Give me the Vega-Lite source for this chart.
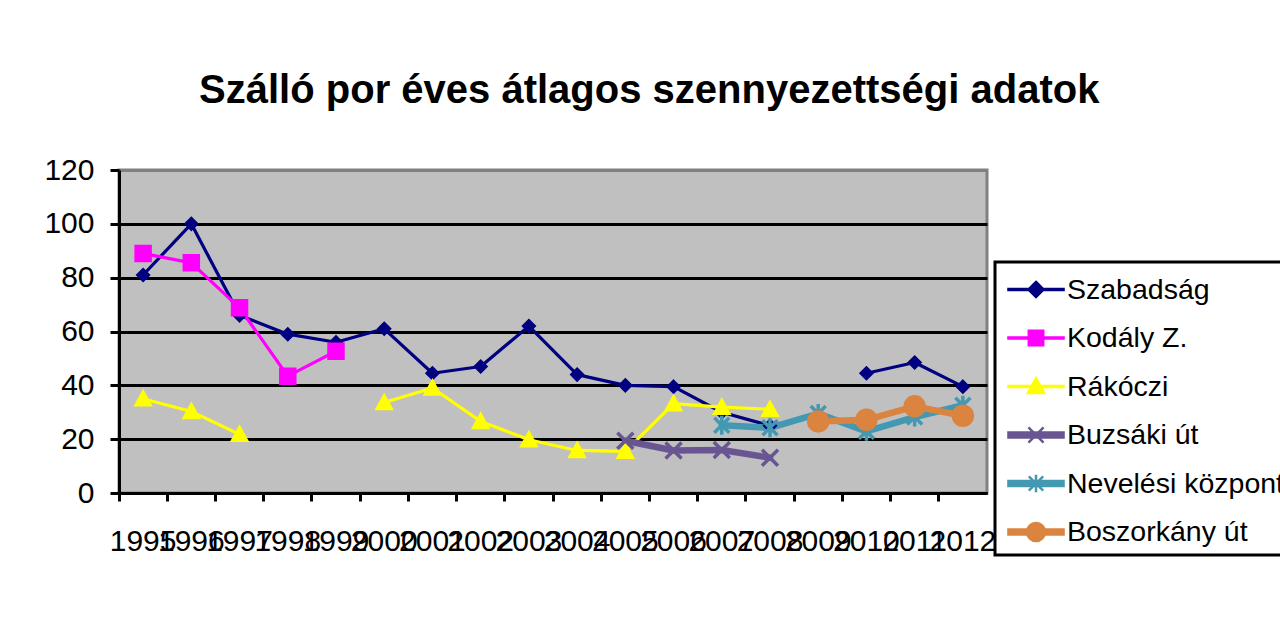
{
  "$schema": "https://vega.github.io/schema/vega-lite/v6.json",
  "width": 868,
  "height": 323,
  "autosize": {"type": "none"},
  "padding": {"left": 119, "top": 170, "right": 293, "bottom": 126},
  "background": "white",
  "title": {
    "text": "Szálló por éves átlagos szennyezettségi adatok",
    "font": "Liberation Sans",
    "fontSize": 40,
    "fontWeight": "bold",
    "color": "black",
    "anchor": "middle",
    "frame": "bounds",
    "offset": 44,
    "dx": -20
  },
  "config": {
    "view": {"fill": "#C0C0C0", "stroke": "#808080", "strokeWidth": 3},
    "axis": {
      "labelFont": "Liberation Sans",
      "labelFontSize": 30,
      "labelColor": "black",
      "domainColor": "black",
      "domainWidth": 3,
      "tickColor": "black",
      "tickWidth": 3,
      "title": null
    },
    "legend": {
      "strokeColor": "black",
      "strokeWidth": 3,
      "fillColor": "white"
    }
  },
  "data": {
    "values": [
      {"year": 1995, "series": "Szabadság", "value": 81},
      {"year": 1996, "series": "Szabadság", "value": 100},
      {"year": 1997, "series": "Szabadság", "value": 66},
      {"year": 1998, "series": "Szabadság", "value": 59},
      {"year": 1999, "series": "Szabadság", "value": 56},
      {"year": 2000, "series": "Szabadság", "value": 61},
      {"year": 2001, "series": "Szabadság", "value": 44.5},
      {"year": 2002, "series": "Szabadság", "value": 47},
      {"year": 2003, "series": "Szabadság", "value": 62},
      {"year": 2004, "series": "Szabadság", "value": 44},
      {"year": 2005, "series": "Szabadság", "value": 40},
      {"year": 2006, "series": "Szabadság", "value": 39.5},
      {"year": 2007, "series": "Szabadság", "value": 30},
      {"year": 2008, "series": "Szabadság", "value": 25},
      {"year": 2009, "series": "Szabadság", "value": null},
      {"year": 2010, "series": "Szabadság", "value": 44.5},
      {"year": 2011, "series": "Szabadság", "value": 48.5},
      {"year": 2012, "series": "Szabadság", "value": 39.5},
      {"year": 1995, "series": "Kodály Z.", "value": 89},
      {"year": 1996, "series": "Kodály Z.", "value": 85.5},
      {"year": 1997, "series": "Kodály Z.", "value": 68.8},
      {"year": 1998, "series": "Kodály Z.", "value": 43.4},
      {"year": 1999, "series": "Kodály Z.", "value": 52.7},
      {"year": 1995, "series": "Rákóczi", "value": 35},
      {"year": 1996, "series": "Rákóczi", "value": 30.3},
      {"year": 1997, "series": "Rákóczi", "value": 21.8},
      {"year": 1998, "series": "Rákóczi", "value": null},
      {"year": 1999, "series": "Rákóczi", "value": null},
      {"year": 2000, "series": "Rákóczi", "value": 33.6},
      {"year": 2001, "series": "Rákóczi", "value": 39},
      {"year": 2002, "series": "Rákóczi", "value": 26.6},
      {"year": 2003, "series": "Rákóczi", "value": 19.8},
      {"year": 2004, "series": "Rákóczi", "value": 15.8},
      {"year": 2005, "series": "Rákóczi", "value": 15.5},
      {"year": 2006, "series": "Rákóczi", "value": 33.2},
      {"year": 2007, "series": "Rákóczi", "value": 31.9},
      {"year": 2008, "series": "Rákóczi", "value": 31.1},
      {"year": 2005, "series": "Buzsáki út", "value": 19.4},
      {"year": 2006, "series": "Buzsáki út", "value": 15.8},
      {"year": 2007, "series": "Buzsáki út", "value": 16},
      {"year": 2008, "series": "Buzsáki út", "value": 13.1},
      {"year": 2007, "series": "Nevelési központ", "value": 25.2},
      {"year": 2008, "series": "Nevelési központ", "value": 24.2},
      {"year": 2009, "series": "Nevelési központ", "value": 29.5},
      {"year": 2010, "series": "Nevelési központ", "value": 22.9},
      {"year": 2011, "series": "Nevelési központ", "value": 28.2},
      {"year": 2012, "series": "Nevelési központ", "value": 32.6},
      {"year": 2009, "series": "Boszorkány út", "value": 26.6},
      {"year": 2010, "series": "Boszorkány út", "value": 27.2},
      {"year": 2011, "series": "Boszorkány út", "value": 32.2},
      {"year": 2012, "series": "Boszorkány út", "value": 28.7}
    ]
  },
  "encoding": {
    "x": {
      "field": "year",
      "type": "ordinal",
      "bandPosition": 0.5,
      "scale": {"type": "band", "paddingInner": 0, "paddingOuter": 0},
      "axis": {
        "bandPosition": 0,
        "labelAngle": 0,
        "labelOverlap": false,
        "labelPadding": 25,
        "tickSize": 8,
        "grid": false
      }
    },
    "y": {
      "field": "value",
      "type": "quantitative",
      "scale": {"domain": [0, 120], "nice": false},
      "axis": {
        "values": [0, 20, 40, 60, 80, 100, 120],
        "tickSize": 9,
        "labelPadding": 16,
        "grid": true,
        "gridWidth": 3,
        "gridColor": {"condition": {"test": "datum.value === 120", "value": "#808080"}, "value": "black"}
      }
    }
  },
  "layer": [
    {
      "transform": [{"filter": {"field": "series", "oneOf": ["Szabadság", "Kodály Z.", "Rákóczi"]}}],
      "mark": {"type": "line", "strokeWidth": 3.2, "strokeCap": "round", "strokeJoin": "round"},
      "encoding": {
        "color": {
          "field": "series",
          "type": "nominal",
          "legend": null,
          "scale": {
            "domain": ["Szabadság", "Kodály Z.", "Rákóczi", "Buzsáki út", "Nevelési központ", "Boszorkány út"],
            "range": ["#000080", "#FF00FF", "#FFFF00", "#6A5593", "#4499B2", "#DA8440"]
          }
        }
      }
    },
    {
      "transform": [{"filter": {"field": "series", "oneOf": ["Buzsáki út", "Nevelési központ", "Boszorkány út"]}}],
      "mark": {"type": "line", "strokeWidth": 6.5, "strokeCap": "round", "strokeJoin": "round"},
      "encoding": {
        "color": {
          "field": "series",
          "type": "nominal",
          "legend": null,
          "scale": {
            "domain": ["Szabadság", "Kodály Z.", "Rákóczi", "Buzsáki út", "Nevelési központ", "Boszorkány út"],
            "range": ["#000080", "#FF00FF", "#FFFF00", "#6A5593", "#4499B2", "#DA8440"]
          }
        }
      }
    },
    {
      "transform": [{"filter": {"field": "series", "oneOf": ["Szabadság", "Kodály Z.", "Rákóczi"]}}],
      "mark": {"type": "point", "filled": true, "opacity": 1, "size": 400, "strokeWidth": 1.5},
      "encoding": {
        "shape": {
          "field": "series",
          "type": "nominal",
          "legend": null,
          "scale": {
            "domain": ["Szabadság", "Kodály Z.", "Rákóczi"],
            "range": [
              "M0,-0.65L0.65,0L0,0.65L-0.65,0Z",
              "M-0.8,-0.8H0.8V0.8H-0.8Z",
              "M0,-0.85L0.85,0.7H-0.85Z"
            ]
          }
        },
        "fill": {
          "field": "series",
          "type": "nominal",
          "legend": null,
          "scale": {"domain": ["Szabadság", "Kodály Z.", "Rákóczi"], "range": ["#000080", "#FF00FF", "#FFFF00"]}
        },
        "stroke": {
          "field": "series",
          "type": "nominal",
          "legend": null,
          "scale": {"domain": ["Szabadság", "Kodály Z.", "Rákóczi"], "range": ["#000080", "#FF00FF", "#FFFF00"]}
        }
      }
    },
    {
      "transform": [{"filter": {"field": "series", "oneOf": ["Buzsáki út", "Nevelési központ"]}}],
      "mark": {"type": "point", "filled": true, "opacity": 1, "size": 400, "strokeWidth": 3.5},
      "encoding": {
        "shape": {
          "field": "series",
          "type": "nominal",
          "legend": null,
          "scale": {
            "domain": ["Buzsáki út", "Nevelési központ"],
            "range": [
              "M-0.8,-0.8L0.8,0.8M-0.8,0.8L0.8,-0.8",
              "M-0.75,-0.75L0.75,0.75M-0.75,0.75L0.75,-0.75M0,-0.95V0.95"
            ]
          }
        },
        "fill": {
          "field": "series",
          "type": "nominal",
          "legend": null,
          "scale": {"domain": ["Buzsáki út", "Nevelési központ"], "range": ["#6A5593", "#4499B2"]}
        },
        "stroke": {
          "field": "series",
          "type": "nominal",
          "legend": null,
          "scale": {"domain": ["Buzsáki út", "Nevelési központ"], "range": ["#6A5593", "#4499B2"]}
        }
      }
    },
    {
      "transform": [{"filter": {"field": "series", "equal": "Boszorkány út"}}],
      "mark": {"type": "point", "filled": true, "opacity": 1, "size": 440, "strokeWidth": 1.5, "shape": "circle", "fill": "#DA8440", "stroke": "#DA8440"},
      "encoding": {}
    },
    {
      "transform": [{"filter": "false"}],
      "mark": {"type": "point", "filled": true, "opacity": 1, "strokeWidth": 2},
      "encoding": {
        "shape": {
          "field": "series",
          "type": "nominal",
          "scale": {
            "domain": ["Szabadság", "Kodály Z.", "Rákóczi", "Buzsáki út", "Nevelési központ", "Boszorkány út"],
            "range": [
              "M-0.78,-0.03H2.28V0.03H-0.78ZM0.75,-0.42L1.17,0L0.75,0.42L0.33,0Z",
              "M-0.78,-0.03H2.28V0.03H-0.78ZM0.35,-0.4H1.15V0.4H0.35Z",
              "M-0.78,-0.03H2.28V0.03H-0.78ZM0.75,-0.45L1.2,0.36H0.3Z",
              "M-0.78,-0.14H2.28V0.14H-0.78ZM0.33,-0.42L1.17,0.42M0.33,0.42L1.17,-0.42",
              "M-0.78,-0.14H2.28V0.14H-0.78ZM0.35,-0.4L1.15,0.4M0.35,0.4L1.15,-0.4M0.75,-0.48V0.48",
              "M-0.78,-0.14H2.28V0.14H-0.78ZM1.25,0A0.5,0.5,0,1,1,0.25,0A0.5,0.5,0,1,1,1.25,0Z"
            ]
          },
          "legend": {
            "title": null,
            "orient": "none",
            "legendX": 876,
            "legendY": 92,
            "padding": 8,
            "symbolSize": 1296,
            "symbolStrokeWidth": 2.5,
            "rowPadding": 14.5,
            "labelOffset": 25,
            "labelFont": "Liberation Sans",
            "labelFontSize": 28.5,
            "labelColor": "black",
            "labelLimit": 400
          }
        },
        "fill": {
          "field": "series",
          "type": "nominal",
          "scale": {
            "domain": ["Szabadság", "Kodály Z.", "Rákóczi", "Buzsáki út", "Nevelési központ", "Boszorkány út"],
            "range": ["#000080", "#FF00FF", "#FFFF00", "#6A5593", "#4499B2", "#DA8440"]
          },
          "legend": {
            "title": null,
            "orient": "none",
            "legendX": 876,
            "legendY": 92,
            "padding": 8,
            "symbolSize": 1296,
            "symbolStrokeWidth": 2.5,
            "rowPadding": 14.5,
            "labelOffset": 25,
            "labelFont": "Liberation Sans",
            "labelFontSize": 28.5,
            "labelColor": "black",
            "labelLimit": 400
          }
        },
        "stroke": {
          "field": "series",
          "type": "nominal",
          "scale": {
            "domain": ["Szabadság", "Kodály Z.", "Rákóczi", "Buzsáki út", "Nevelési központ", "Boszorkány út"],
            "range": ["#000080", "#FF00FF", "#FFFF00", "#6A5593", "#4499B2", "#DA8440"]
          },
          "legend": {
            "title": null,
            "orient": "none",
            "legendX": 876,
            "legendY": 92,
            "padding": 8,
            "symbolSize": 1296,
            "symbolStrokeWidth": 2.5,
            "rowPadding": 14.5,
            "labelOffset": 25,
            "labelFont": "Liberation Sans",
            "labelFontSize": 28.5,
            "labelColor": "black",
            "labelLimit": 400
          }
        }
      }
    }
  ],
  "resolve": {
    "scale": {"fill": "independent", "stroke": "independent", "shape": "independent"}
  }
}
